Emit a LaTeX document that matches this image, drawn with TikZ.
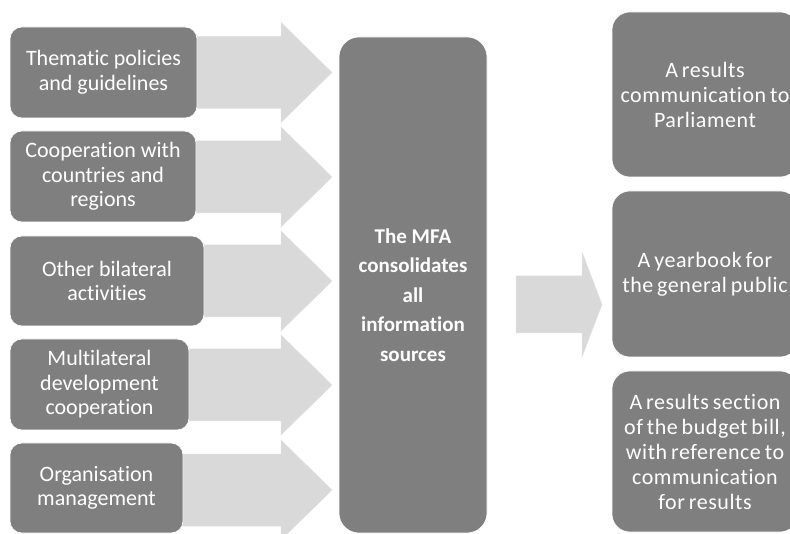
\documentclass[tikz,border=0pt]{standalone}
\usepackage{fontspec}
\setmainfont{Carlito}[Ligatures=NoCommon]
\newfontfamily\rfont{Carlito}[Ligatures=NoCommon, WordSpace={0.7,0.3,0.3}, LetterSpace=2.5]
\definecolor{boxgray}{HTML}{7F7F7F}
\definecolor{arrowgray}{HTML}{D9D9D9}
\begin{document}
\begin{tikzpicture}[x=1pt,y=-1pt,
  gbox/.style={rectangle, rounded corners=12pt, fill=boxgray, draw=white, line width=0.6pt,
    text=white, align=center, inner sep=0pt},
  lbox/.style={gbox, font=\fontsize{22}{24.5}\selectfont},
  rbox/.style={gbox, rounded corners=18pt, minimum width=186pt,
    font=\rfont\fontsize{22}{25}\selectfont},
  cbox/.style={gbox, rounded corners=20pt},
  blockarrow/.style={fill=arrowgray, draw=arrowgray!80!white, line width=0.5pt}]
\useasboundingbox (0,0) rectangle (790,534);
% arrows into the centre box
\foreach \yy in {72.5,177,281,385,490}{
  \path[blockarrow] (150,{\yy-36}) -- (281,{\yy-36}) -- (281,{\yy-50}) -- (332,\yy)
    -- (281,{\yy+50}) -- (281,{\yy+36}) -- (150,{\yy+36}) -- cycle;
}
% arrow to the output boxes
\path[blockarrow] (516,276) -- (582,276) -- (582,252) -- (602,304.5) -- (582,357)
  -- (582,333) -- (516,333) -- cycle;
% left boxes
\node[lbox, minimum width=187pt, minimum height=91pt] (l1) at (103.5,72.5)
  {Thematic policies\\and guidelines};
\node[lbox, minimum width=186pt, minimum height=91pt] (l2) at (103,176.5)
  {Cooperation with\\countries and\\regions};
\node[lbox, minimum width=194pt, minimum height=90pt] (l3) at (107,281)
  {Other bilateral\\activities};
\node[lbox, minimum width=179pt, minimum height=91pt] (l4) at (99.5,384.5)
  {Multilateral\\development\\cooperation};
\node[lbox, minimum width=173pt, minimum height=90pt] (l5) at (96.5,488)
  {Organisation\\management};
% centre box
\node[cbox, minimum width=148pt, minimum height=496pt] (mfa) at (413,285) {};
\node[text=white, align=center, inner sep=0pt, font=\bfseries\fontsize{21}{29.5}\selectfont]
  (mfatext) at (413,295) {The MFA\\consolidates\\all\\information\\sources};
% right boxes
\node[rbox, minimum height=165pt] (r1) at (705,94.5)
  {A results\\communication to\\Parliament};
\node[rbox, minimum height=166pt] (r2) at (705,274)
  {A yearbook for\\the general public};
\node[rbox, minimum height=161pt] (r3) at (705,451.5)
  {A results section\\of the budget bill,\\with reference to\\communication\\for results};
\end{tikzpicture}
\end{document}
